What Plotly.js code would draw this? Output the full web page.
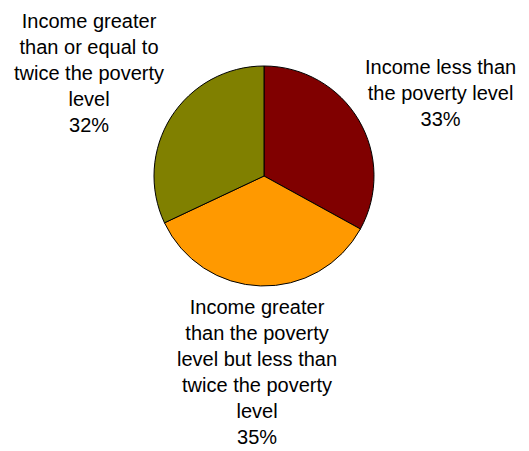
<!DOCTYPE html>
<html>
<head>
<meta charset="utf-8">
<script src="https://cdn.plot.ly/plotly-3.0.1.min.js"></script>
<style>html,body{margin:0;padding:0;background:#fff;}#chart{width:529px;height:451px;}</style>
</head>
<body>
<div id="chart"></div>
<script>
var categories = [
  "Income less than<br>the poverty level",
  "Income greater<br>than the poverty<br>level but less than<br>twice the poverty<br>level",
  "Income greater<br>than or equal to<br>twice the poverty<br>level"
];
var values = [33, 35, 32];
var colors = ["#800000", "#FF9900", "#808000"];
var labelPos = [[440, 93], [257, 372], [89, 73]];

var W = 529, H = 451;
var data = [{
  type: "pie",
  values: values,
  labels: categories,
  sort: false,
  direction: "clockwise",
  rotation: 0,
  textinfo: "none",
  hoverinfo: "label+percent",
  marker: {colors: colors, line: {color: "#000", width: 1}},
  domain: {x: [(264 - 110) / W, (264 + 110) / W], y: [(H - 176 - 110) / H, (H - 176 + 110) / H]},
  showlegend: false
}];

var total = values.reduce(function (a, b) { return a + b; }, 0);
var annotations = categories.map(function (c, i) {
  return {
    xref: "paper", yref: "paper",
    x: labelPos[i][0] / W, y: 1 - labelPos[i][1] / H,
    xanchor: "center", yanchor: "middle",
    text: c + "<br>" + Math.round(values[i] / total * 100) + "%",
    showarrow: false,
    align: "center",
    font: {family: "Liberation Sans, Arial, sans-serif", size: 20, color: "#000"}
  };
});

var layout = {
  width: W, height: H,
  margin: {l: 0, r: 0, t: 0, b: 0},
  paper_bgcolor: "#fff",
  annotations: annotations
};
Plotly.newPlot("chart", data, layout, {staticPlot: true});
</script>
</body>
</html>
